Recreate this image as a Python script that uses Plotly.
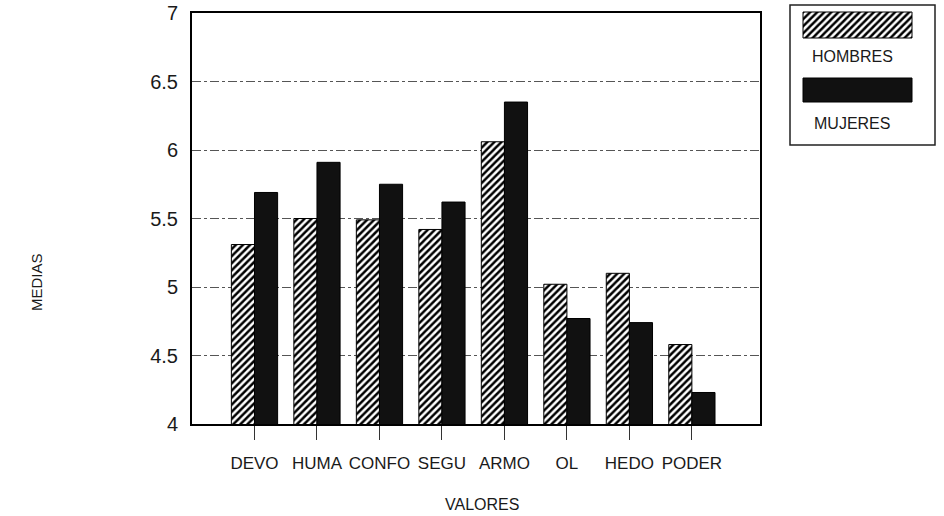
import plotly.graph_objects as go

categories = ["DEVO", "HUMA", "CONFO", "SEGU", "ARMO", "OL", "HEDO", "PODER"]
hombres = [5.31, 5.50, 5.49, 5.42, 6.06, 5.02, 5.10, 4.58]
mujeres = [5.69, 5.91, 5.75, 5.62, 6.35, 4.77, 4.74, 4.23]
y_ticks = [4, 4.5, 5, 5.5, 6, 6.5, 7]
y_tick_labels = ["4", "4.5", "5", "5.5", "6", "6.5", "7"]

FONT = "Liberation Sans, Arial, sans-serif"
INK = "#1a1a1a"

W, H = 944, 516
ML, MR, MT, MB = 192, 8, 4, 92
PW = W - ML - MR
PH = H - MT - MB

def px_x(x):
    return (x - ML) / PW

def px_y(y):
    return (H - MB - y) / PH

HATCH = dict(shape="/", fgcolor="black", bgcolor="white", size=5, solidity=0.5)

fig = go.Figure()

fig.add_trace(go.Bar(
    x=categories, y=hombres, name="HOMBRES",
    marker=dict(color="white", line=dict(color="black", width=1), pattern=HATCH),
    showlegend=False,
))
fig.add_trace(go.Bar(
    x=categories, y=mujeres, name="MUJERES",
    marker=dict(color="#111111", line=dict(color="black", width=1)),
    showlegend=False,
))

# legend swatches on an auxiliary axis
fig.add_trace(go.Scatter(
    x=[803, 912, 912, 803, 803], y=[12, 12, 38, 38, 12],
    fill="toself", mode="lines", line=dict(color="black", width=1),
    fillcolor="white", fillpattern=HATCH,
    xaxis="x2", yaxis="y2", showlegend=False, hoverinfo="skip",
))
fig.add_trace(go.Scatter(
    x=[803, 912, 912, 803, 803], y=[78, 78, 102, 102, 78],
    fill="toself", mode="lines", line=dict(color="black", width=1),
    fillcolor="#111111",
    xaxis="x2", yaxis="y2", showlegend=False, hoverinfo="skip",
))

x_dom_end = px_x(760)
y_top = px_y(13)

def ann(text, x, y, size, angle=0):
    return dict(text=text, xref="paper", yref="paper", x=px_x(x), y=px_y(y),
                xanchor="center", yanchor="middle", showarrow=False, textangle=angle,
                font=dict(size=size, family=FONT, color=INK))

fig.update_layout(
    template="none",
    width=W, height=H,
    margin=dict(l=ML, r=MR, t=MT, b=MB, autoexpand=False),
    paper_bgcolor="white", plot_bgcolor="white",
    barmode="group", bargap=0.26, bargroupgap=0.0,
    font=dict(family=FONT, color=INK),
    xaxis=dict(
        domain=[0, x_dom_end], type="category", range=[-1, 8.09],
        showline=True, mirror=True, linecolor="black", linewidth=2,
        ticks="outside", ticklen=14, tickwidth=1, tickcolor="#333",
        tickangle=0, automargin=False, ticklabelstandoff=9,
        tickfont=dict(size=17, family=FONT, color=INK),
        showgrid=False, zeroline=False, anchor="y",
    ),
    yaxis=dict(
        domain=[0, y_top], range=[4, 7],
        tickvals=y_ticks, ticktext=y_tick_labels,
        showline=True, mirror=True, linecolor="black", linewidth=2,
        ticks="outside", ticklen=8, tickcolor="rgba(0,0,0,0)",
        automargin=False,
        tickfont=dict(size=20, family=FONT, color=INK),
        showgrid=True, gridcolor="#555", gridwidth=1, griddash="dashdot",
        zeroline=False, anchor="x",
    ),
    xaxis2=dict(domain=[px_x(790), px_x(935)], range=[790, 935], visible=False,
                anchor="y2", fixedrange=True, automargin=False),
    yaxis2=dict(domain=[px_y(145), min(1.0, px_y(4))], range=[145, 4], visible=False,
                anchor="x2", fixedrange=True, automargin=False),
    shapes=[
        dict(type="rect", xref="paper", yref="paper",
             x0=px_x(790), x1=px_x(935), y0=px_y(145), y1=px_y(5),
             line=dict(color="#222", width=1.5), fillcolor="rgba(0,0,0,0)", layer="below"),
    ],
    annotations=[
        ann("HOMBRES", 852, 56, 16),
        ann("MUJERES", 852, 123, 16),
        ann("VALORES", 482, 504, 16),
        ann("MEDIAS", 36, 282, 15, -90),
    ],
)

fig.write_html("out.html", config={"displayModeBar": False},
               post_script="document.body.style.margin='0';document.body.style.padding='0';")
